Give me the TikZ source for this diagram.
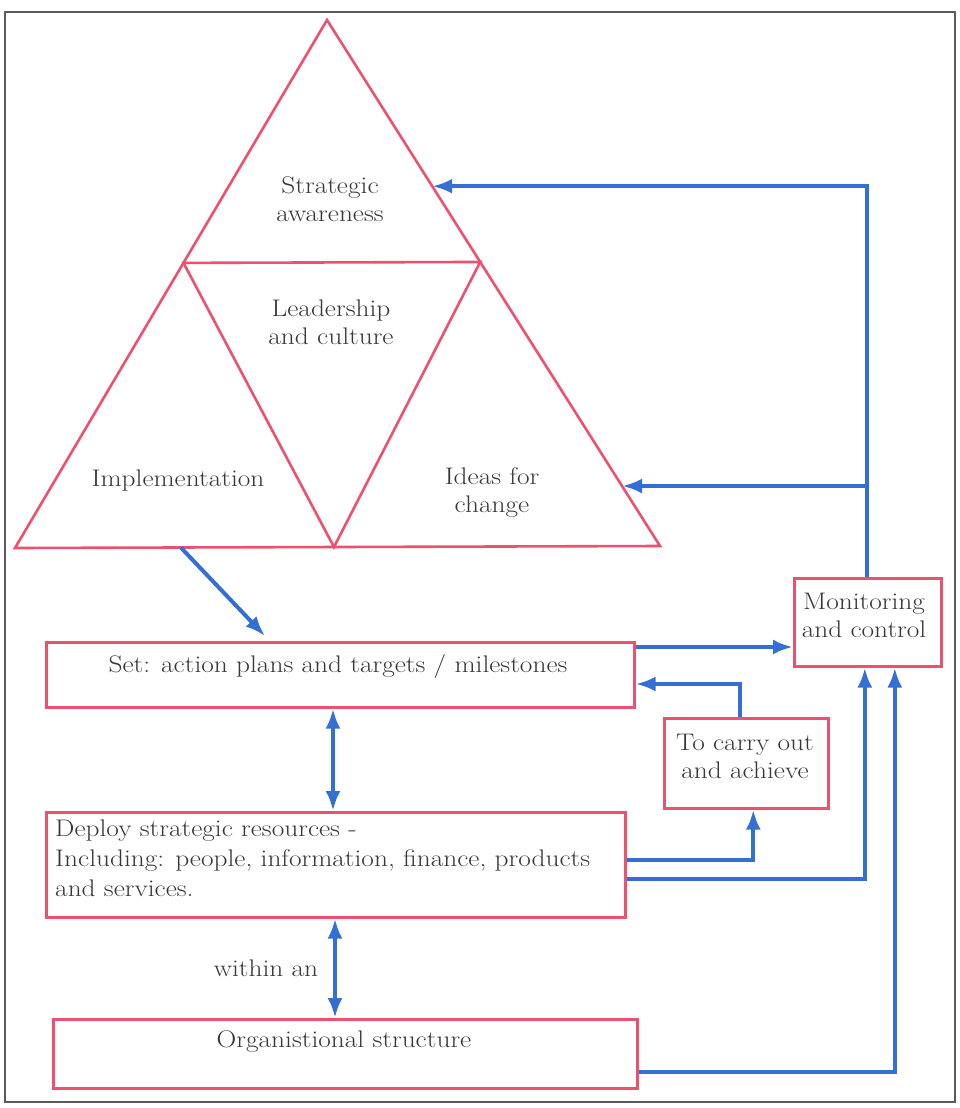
\documentclass[tikz,border=0pt]{standalone}
\usepackage{fontspec}
\setmainfont{Latin Modern Roman}[FakeStretch=1.14]
\usetikzlibrary{arrows.meta,calc}
\definecolor{boxred}{RGB}{236,82,112}
\definecolor{flowblue}{RGB}{52,112,212}
\definecolor{frame}{RGB}{90,90,90}
\definecolor{ink}{RGB}{55,55,55}
\begin{document}
\begin{tikzpicture}[x=1pt,y=-1pt,
  txt/.style={font=\fontsize{24}{28}\selectfont, text=ink, inner sep=0pt, align=center},
  box/.style={draw=boxred, line width=2.6pt, anchor=north west, inner sep=0pt},
  tri/.style={draw=boxred, line width=2.6pt, line join=miter},
  flow/.style={draw=flowblue, line width=4pt, -{Latex[length=20pt,width=15pt]}},
  flow2/.style={draw=flowblue, line width=4pt, {Latex[length=20pt,width=15pt]}-{Latex[length=20pt,width=15pt]}},
  plain/.style={draw=flowblue, line width=4pt}]
\useasboundingbox (0,0) rectangle (959,1108);
\fill[white] (0,0) rectangle (959,1108);
% outer frame
\draw[frame, line width=1.6pt] (5,12) rectangle (955,1102);

% triangle and its four parts
\coordinate (A) at (327,20);
\coordinate (B) at (15,548);
\coordinate (C) at (660,546);
\coordinate (P) at ($(A)!0.46!(B)$);
\coordinate (Q) at ($(A)!0.46!(C)$);
\coordinate (M) at (334,547);
\draw[tri] (A) -- (B) -- (C) -- cycle;
\draw[tri] (P) -- (Q) -- (M) -- cycle;

\node[txt] (aware) at (330,199) {Strategic\\awareness};
\node[txt] (lead) at (331,322) {Leadership\\and culture};
\node[txt] (impl) at (178,481) {Implementation};
\node[txt] (ideas) at (492,493) {Ideas for\\change};

% boxes
\node[box, minimum width=147, minimum height=88] (mon) at (793,577) {};
\node[txt] (montext) at (864,615) {Monitoring\\and control};

\node[box, minimum width=588, minimum height=65] (set) at (45,641) {};
\node[txt, anchor=base] (settext) at (338,672) {Set: action plans and targets / milestones};

\node[box, minimum width=164, minimum height=90] (carry) at (663,717) {};
\node[txt] (carrytext) at (745,756) {To carry out\\and achieve};

\node[box, minimum width=579, minimum height=105] (deploy) at (45,811) {};
\node[txt, anchor=north west, align=left, font=\fontsize{24}{30}\selectfont] (deploytext) at (55,820)
  {Deploy strategic resources -\\Including: people, information, finance, products\\and services.};

\node[txt, anchor=base] (within) at (266,976) {within an};

\node[box, minimum width=584, minimum height=69] (org) at (52,1018) {};
\node[txt, anchor=base] (orgtext) at (344,1047) {Organistional structure};

% feedback from monitoring to the triangle
\coordinate (tipA) at ($(A)!0.316!(C)$);
\coordinate (tipB) at ($(A)!0.886!(C)$);
\coordinate (mtop) at ($(mon.north)+(-1,0)$);
\draw[plain] (mtop) -- (mtop |- tipA);
\draw[flow] ($(mtop |- tipA)+(2,0)$) -- (tipA);
\draw[flow] (mtop |- tipB) -- (tipB);

% implementation to action plans
\coordinate (implout) at ($(B)!0.257!(C)$);
\draw[flow] (implout) -- (265,636);

% action plans to monitoring
\coordinate (setout) at ($(set.north east)+(0,6)$);
\draw[flow] (setout) -- (mon.west |- setout);

% carry out back to action plans
\coordinate (carryout) at ($(carry.north)+(-6,0)$);
\coordinate (setin) at ($(set.north east)+(0,43)$);
\draw[flow] (carryout) |- (setin);

% action plans and deploy
\draw[flow2] (set.south -| 333,0) -- (deploy.north -| 333,0);
% deploy and organisation
\draw[flow2] (deploy.south -| 335,0) -- (org.north -| 335,0);

% deploy to carry out and to monitoring
\coordinate (dep1) at ($(deploy.north east)+(0,49)$);
\coordinate (dep2) at ($(deploy.north east)+(0,68)$);
\draw[flow] (dep1) -| ($(carry.south)+(7,0)$);
\draw[flow] (dep2) -| ($(mon.south)+(-3,0)$);

% organisation to monitoring
\coordinate (orgout) at ($(org.north east)+(0,54)$);
\draw[flow] (orgout) -| ($(mon.south)+(27,0)$);
\end{tikzpicture}
\end{document}
